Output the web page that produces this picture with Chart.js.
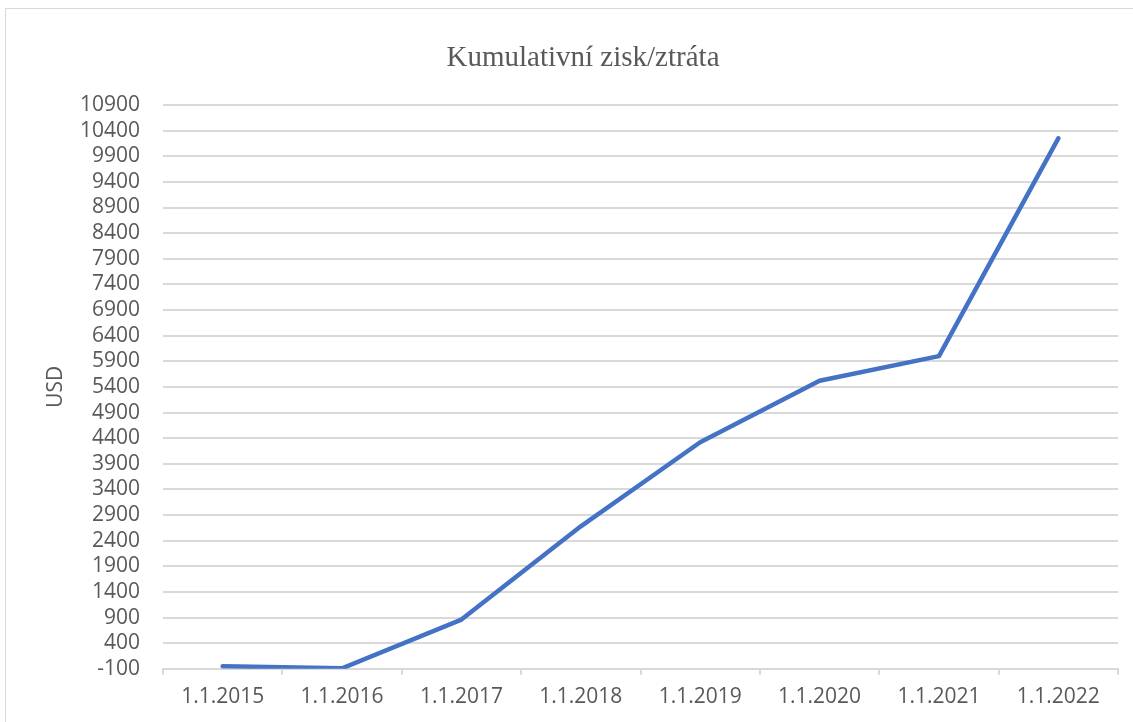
<!DOCTYPE html>
<html>
<head>
<meta charset="utf-8">
<script src="https://cdn.jsdelivr.net/npm/chart.js@4"></script>
<style>
  html, body { margin: 0; padding: 0; background: #fff; }
  #wrap { position: relative; width: 1133px; height: 722px; overflow: hidden; }
  #frame { position: absolute; left: 5px; top: 8px; width: 1140px; height: 730px; border: 1px solid #d9d9d9; }
  canvas { position: absolute; left: 0; top: 0; }
</style>
</head>
<body>
<div id="wrap">
  <div id="frame"></div>
  <canvas id="chart" width="1133" height="722"></canvas>
</div>
<script>
// data
const categories = ['1.1.2015', '1.1.2016', '1.1.2017', '1.1.2018', '1.1.2019', '1.1.2020', '1.1.2021', '1.1.2022'];
const cumulative = [-50, -90, 860, 2680, 4320, 5520, 6000, 10250];
const yMin = -100;
const yMax = 10900;
const yStep = 500;
const chartTitle = 'Kumulativní zisk/ztráta';

// title sits a bit left of the plot centre in the original, so draw it ourselves
const titlePlugin = {
  id: 'offsetTitle',
  afterDraw(chart) {
    const c = chart.ctx;
    c.save();
    c.font = '29px "Liberation Serif"';
    c.fillStyle = '#595959';
    c.textAlign = 'center';
    c.textBaseline = 'alphabetic';
    c.fillText(chartTitle, 583, 66);
    c.restore();
  }
};

document.addEventListener("DOMContentLoaded", function () {
  const ctx = document.getElementById('chart').getContext('2d');
  new Chart(ctx, {
    type: 'line',
    data: {
      labels: categories,
      datasets: [{
        label: chartTitle,
        data: cumulative,
        borderColor: '#4472c4',
        borderWidth: 4.5,
        borderCapStyle: 'round',
        borderJoinStyle: 'round',
        pointRadius: 0,
        tension: 0,
        fill: false
      }]
    },
    options: {
      responsive: false,
      animation: false,
      layout: {
        padding: { top: 105, right: 15, bottom: 2, left: 0 }
      },
      plugins: {
        legend: { display: false },
        tooltip: { enabled: false },
        title: { display: false }
      },
      scales: {
        x: {
          offset: true,
          grid: {
            display: true,
            offset: true,
            drawOnChartArea: false,
            drawTicks: true,
            tickLength: 6,
            color: '#d9d9d9',
            lineWidth: 2
          },
          border: { display: true, color: '#d9d9d9', width: 2 },
          ticks: {
            color: '#595959',
            font: { family: 'Open Sans', size: 21 },
            padding: 10,
            maxRotation: 0,
            autoSkip: false
          }
        },
        y: {
          min: yMin,
          max: yMax,
          afterFit: function (scale) { scale.width = 163; },
          grid: {
            color: '#d9d9d9',
            lineWidth: 2,
            drawTicks: false
          },
          border: { display: false },
          ticks: {
            stepSize: yStep,
            color: '#595959',
            font: { family: 'Open Sans', size: 21 },
            padding: 23,
            autoSkip: false,
            callback: function (v) { return String(v); }
          },
          title: {
            display: true,
            text: 'USD',
            color: '#595959',
            font: { family: 'Open Sans', size: 21 },
            padding: { top: 43, bottom: 0 }
          }
        }
      }
    },
    plugins: [titlePlugin]
  });
});
</script>
</body>
</html>
